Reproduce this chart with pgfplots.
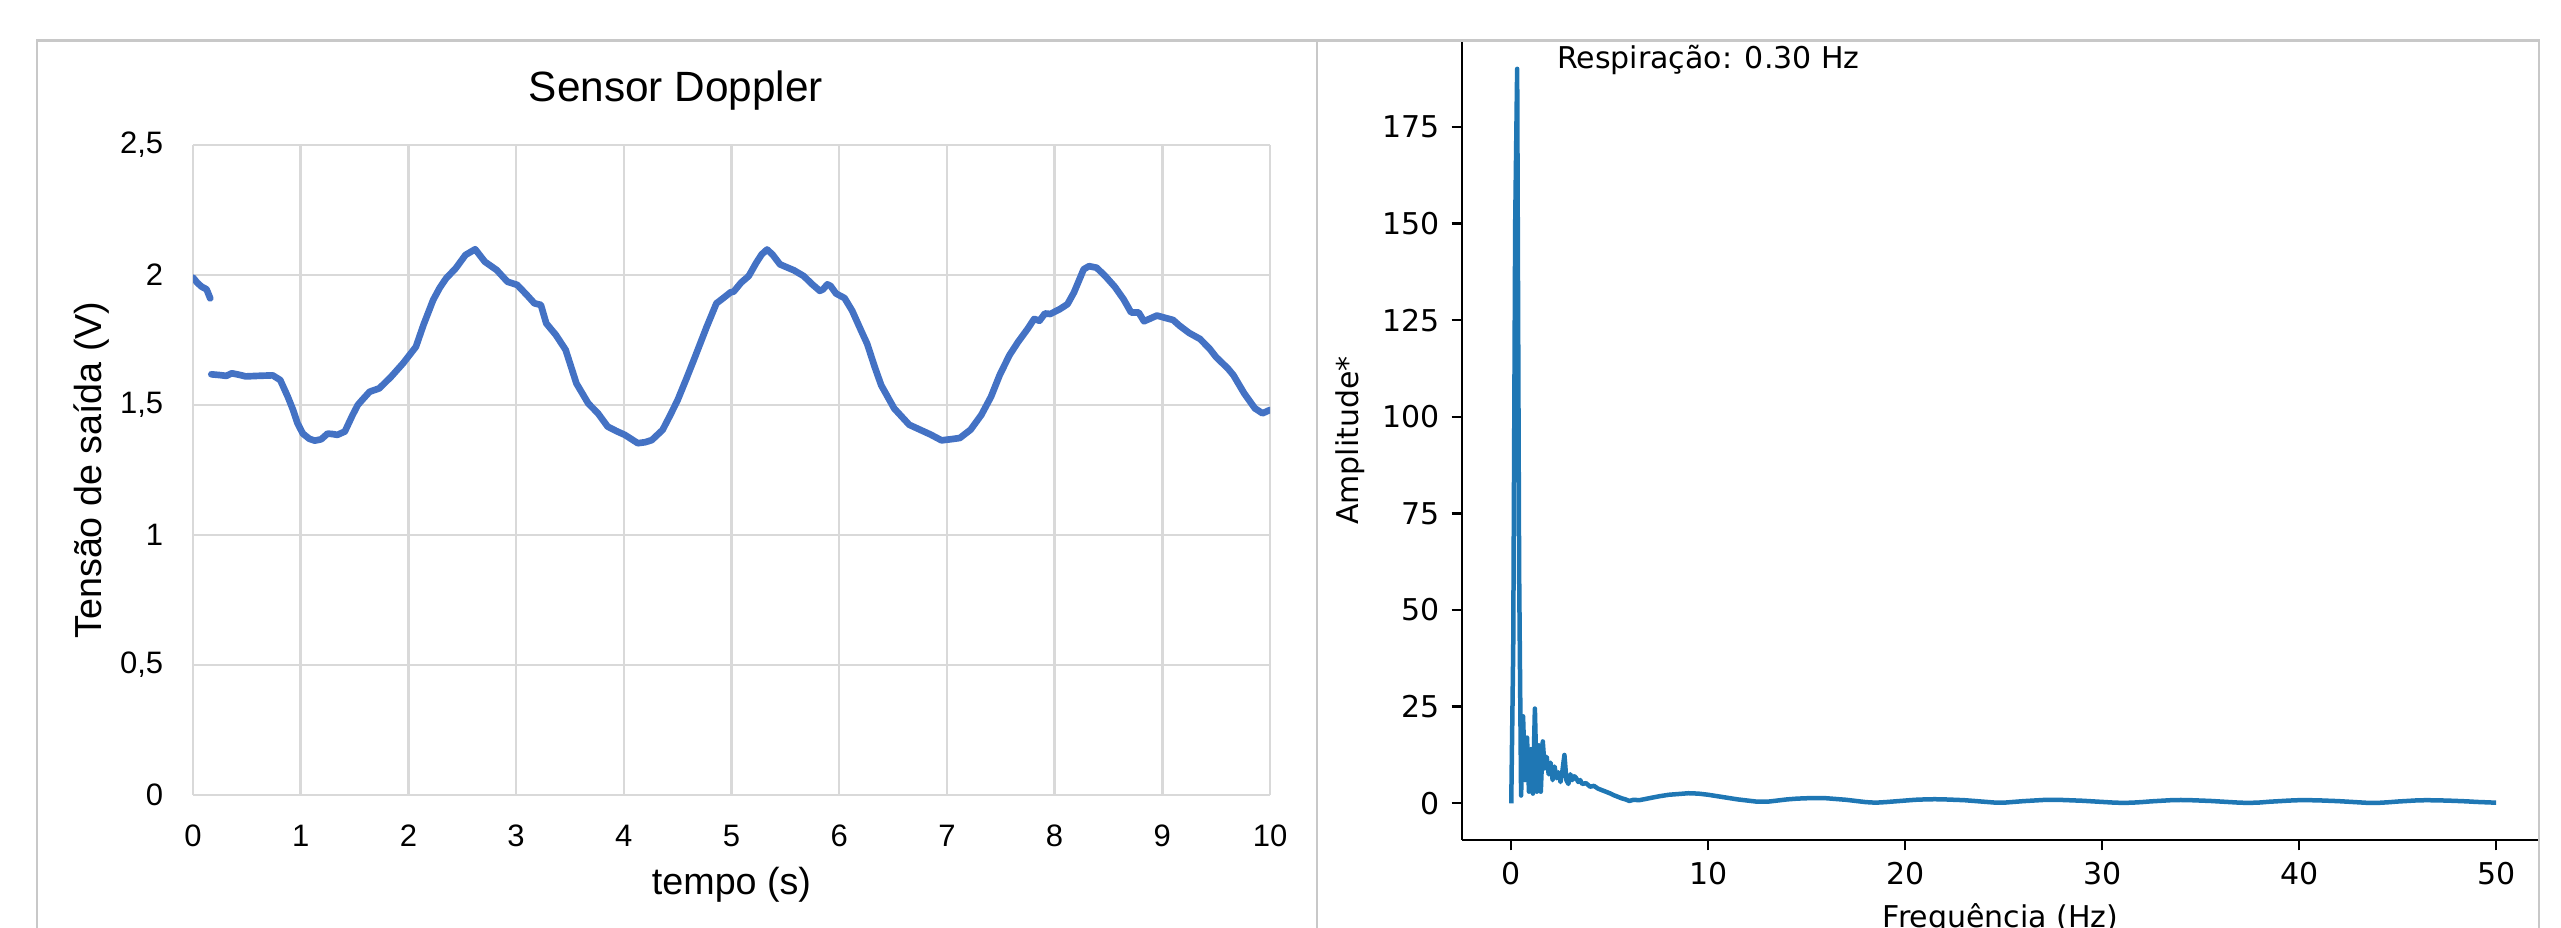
\documentclass[border=0pt]{standalone}
\usepackage{fontspec}
\setmainfont{Liberation Sans}
\newfontfamily\djv{DejaVu Sans}
\usepackage{pgfplots}
\pgfplotsset{compat=1.18}
\definecolor{xlblue}{RGB}{68,114,196}
\definecolor{mplblue}{RGB}{31,119,180}
\definecolor{gridgray}{RGB}{217,217,217}
\definecolor{framegray}{RGB}{200,200,200}
\begin{document}
\begin{tikzpicture}[x=1pt,y=1pt]
\useasboundingbox (0,0) rectangle (768.3,278.4);
\clip (0,0) rectangle (768.3,278.4);

% left panel: Excel-style chart
\begin{axis}[
  at={(57.9pt,39.9pt)}, anchor=south west,
  scale only axis, width=323.1pt, height=195pt,
  xmin=0, xmax=10, ymin=0, ymax=2.5,
  xtick={0,1,...,10},
  ytick={0,0.5,1,1.5,2,2.5},
  yticklabels={0,{0,5},1,{1,5},2,{2,5}},
  grid=major,
  major grid style={line width=0.75pt, gridgray},
  axis line style={draw=none},
  major tick length=0pt,
  /pgf/number format/assume math mode=true,
  tick label style={font=\fontsize{9.3}{11}\selectfont},
  yticklabel style={xshift=-5.4pt},
  xticklabel style={yshift=-5.5pt},
  title={Sensor Doppler},
  title style={at={(axis description cs:0.4485,1.053)}, anchor=center, font=\fontsize{12.7}{15}\selectfont},
  xlabel={tempo (s)},
  xlabel style={at={(axis description cs:0.5,-0.138)}, anchor=center, font=\fontsize{11.3}{13}\selectfont},
  ylabel={Tensão de saída (V)},
  ylabel style={at={(axis description cs:-0.094,0.5)}, anchor=center, font=\fontsize{11.3}{13}\selectfont},
]
\addplot[xlblue, line width=2pt, line join=round, line cap=round] coordinates {
(0,1.99) (0.04,1.97) (0.08,1.955) (0.126,1.945) (0.16,1.91)
};
\addplot[xlblue, line width=2pt, line join=round, line cap=round] coordinates {
(0.17,1.618) (0.25,1.615) (0.31,1.612) (0.36,1.622) (0.42,1.617) (0.49,1.61)
(0.6,1.612) (0.74,1.614) (0.81,1.596) (0.88,1.532) (0.93,1.48) (0.97,1.43)
(1.02,1.39) (1.08,1.37) (1.13,1.363) (1.19,1.368) (1.25,1.39) (1.3,1.388)
(1.34,1.385) (1.41,1.398) (1.48,1.46) (1.53,1.5) (1.57,1.519) (1.64,1.551)
(1.73,1.564) (1.84,1.609) (1.95,1.66) (2.07,1.724) (2.14,1.808) (2.23,1.904)
(2.29,1.95) (2.35,1.987) (2.44,2.026) (2.53,2.077) (2.62,2.099) (2.71,2.051)
(2.82,2.019) (2.92,1.974) (3.01,1.962) (3.10,1.923) (3.17,1.891) (3.23,1.885)
(3.28,1.814) (3.37,1.769) (3.46,1.712) (3.56,1.583) (3.67,1.506) (3.76,1.468)
(3.85,1.417) (3.93,1.40) (4.01,1.385) (4.13,1.353) (4.2,1.357) (4.26,1.365)
(4.36,1.404) (4.43,1.46) (4.50,1.519) (4.58,1.6) (4.65,1.673) (4.77,1.801)
(4.86,1.891) (4.92,1.91) (4.99,1.933) (5.02,1.936) (5.09,1.971) (5.16,1.996)
(5.23,2.047) (5.28,2.079) (5.33,2.098) (5.38,2.079) (5.45,2.041) (5.50,2.032)
(5.58,2.018) (5.67,1.996) (5.75,1.964) (5.82,1.939) (5.85,1.945) (5.89,1.964)
(5.92,1.958) (5.97,1.929) (6.05,1.911) (6.12,1.863) (6.21,1.78) (6.26,1.735)
(6.33,1.646) (6.39,1.576) (6.51,1.487) (6.65,1.424) (6.75,1.405) (6.85,1.386)
(6.95,1.364) (7.05,1.369) (7.12,1.373) (7.22,1.405) (7.32,1.462) (7.41,1.532)
(7.49,1.615) (7.58,1.691) (7.66,1.742) (7.75,1.793) (7.81,1.831) (7.86,1.824)
(7.91,1.852) (7.96,1.85) (8.05,1.869) (8.12,1.888) (8.18,1.933) (8.27,2.022)
(8.32,2.034) (8.39,2.028) (8.47,1.996) (8.56,1.954) (8.64,1.907) (8.71,1.856)
(8.78,1.856) (8.83,1.822) (8.88,1.831) (8.95,1.844) (9.01,1.837) (9.10,1.827)
(9.16,1.805) (9.25,1.777) (9.35,1.754) (9.44,1.716) (9.50,1.684) (9.61,1.64)
(9.66,1.615) (9.76,1.545) (9.86,1.487) (9.93,1.468) (10.0,1.481)
};
\end{axis}

% right panel: matplotlib-style spectrum
\begin{axis}[
  at={(438.6pt,26.4pt)}, anchor=south west,
  scale only axis, width=323.1pt, height=239.7pt,
  xmin=-2.5, xmax=52.18, ymin=-9.5, ymax=197.2,
  axis lines=left,
  axis line style={-, line width=0.72pt, black},
  tick align=outside,
  major tick length=3.15pt,
  tick style={line width=0.72pt, black},
  xtick={0,10,...,50},
  ytick={0,25,...,175},
  /pgf/number format/assume math mode=true,
  tick label style={font=\djv\fontsize{9}{11}\selectfont},
  xlabel={Frequência (Hz)},
  xlabel style={at={(axis description cs:0.5,-0.109)}, anchor=base, font=\djv\fontsize{9}{11}\selectfont},
  ylabel={Amplitude*},
  ylabel style={at={(axis description cs:-0.104,0.5)}, anchor=center, font=\djv\fontsize{9}{11}\selectfont},
]
\addplot[mplblue, line width=1.35pt, line join=round] coordinates {
(0,0) (0.1,40) (0.2,150) (0.3,190) (0.4,60) (0.5,2) (0.6,22.5) (0.7,6) (0.8,17)
(0.9,3) (1.0,14) (1.1,2.5) (1.2,24.5) (1.3,3) (1.4,15) (1.5,3) (1.6,16) (1.7,9)
(1.8,12) (1.9,7.5) (2.0,10.5) (2.1,6) (2.2,9.5) (2.3,6.5) (2.4,8) (2.5,5.5)
(2.6,8.5) (2.7,12.5) (2.8,6) (2.9,5) (3.0,7.5) (3.1,6) (3.2,7) (3.3,6.5)
(3.4,5.5) (3.5,6) (3.6,5) (3.8,5.2) (4.0,4.3) (4.2,4.5) (4.4,3.8) (4.6,3.4)
(4.8,3.0) (5.0,2.6) (5.2,2.1) (5.4,1.7) (5.6,1.3) (5.8,1.0) (6.0,0.6) (6.2,0.9)
(6.5,0.8) (7.0,1.3) (7.5,1.8) (8.0,2.2) (8.5,2.4) (9.0,2.6) (9.5,2.5) (10.0,2.2)
(10.5,1.8) (11.0,1.4) (11.5,1.0) (12.0,0.7) (12.5,0.4) (13.0,0.4) (13.5,0.7)
(14.0,1.0) (14.5,1.2) (15.0,1.3) (15.5,1.35) (16.0,1.3) (16.5,1.1) (17.0,0.9)
(17.5,0.6) (18.0,0.3) (18.5,0.15) (19.0,0.3) (19.5,0.5) (20.0,0.7) (20.5,0.9)
(21.0,1.0) (21.5,1.05) (22.0,1.0) (22.5,0.9) (23.0,0.8) (23.5,0.6) (24.0,0.4)
(24.5,0.2) (25.0,0.15) (25.5,0.35) (26.0,0.55) (26.5,0.7) (27.0,0.85) (27.5,0.9)
(28.0,0.85) (28.5,0.75) (29.0,0.65) (29.5,0.5) (30.0,0.35) (30.5,0.2) (31.0,0.1)
(31.5,0.15) (32.0,0.3) (32.5,0.5) (33.0,0.65) (33.5,0.8) (34.0,0.85) (34.5,0.8)
(35.0,0.7) (35.5,0.6) (36.0,0.45) (36.5,0.3) (37.0,0.15) (37.5,0.1) (38.0,0.2)
(38.5,0.4) (39.0,0.55) (39.5,0.7) (40.0,0.8) (40.5,0.8) (41.0,0.75) (41.5,0.65)
(42.0,0.55) (42.5,0.4) (43.0,0.25) (43.5,0.1) (44.0,0.1) (44.5,0.25) (45.0,0.45)
(45.5,0.6) (46.0,0.75) (46.5,0.8) (47.0,0.75) (47.5,0.7) (48.0,0.6) (48.5,0.5)
(49.0,0.35) (49.5,0.25) (50.0,0.15)
};
\node[anchor=base west, inner sep=0pt, font=\djv\fontsize{9}{11}\selectfont] at (axis cs:2.3,190) {Respiração: 0.30 Hz};
\end{axis}

% outer frame
\draw[framegray, line width=0.75pt] (11.1,-2) -- (11.1,266.25) -- (761.7,266.25) -- (761.7,-2);
\draw[framegray, line width=0.75pt] (395.1,-2) -- (395.1,266.25);
\end{tikzpicture}
\end{document}
